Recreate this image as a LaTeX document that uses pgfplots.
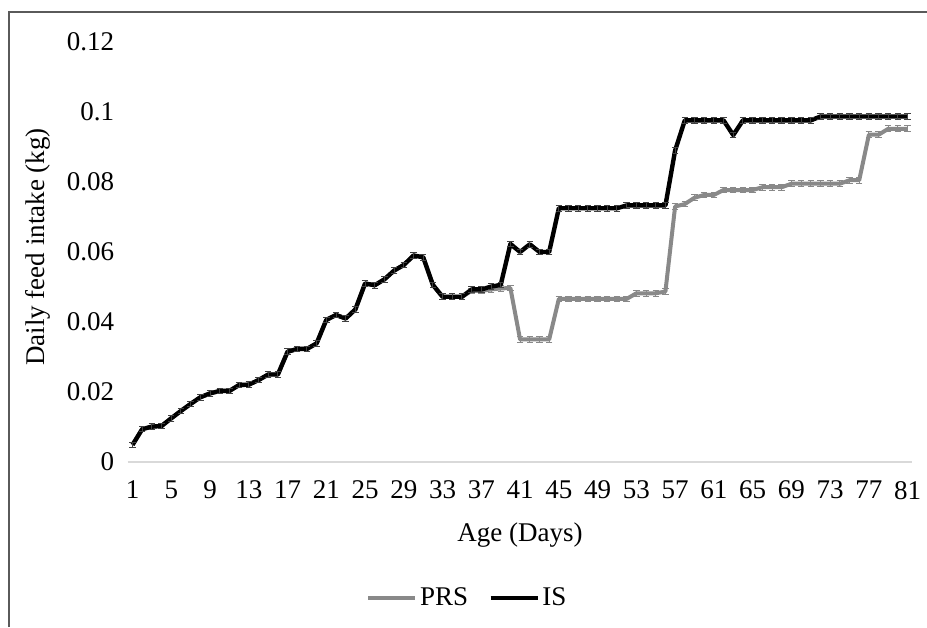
\documentclass[border=0pt]{standalone}
\usepackage{fontspec}
\setmainfont{Liberation Serif}
\usepackage{pgfplots}
\pgfplotsset{compat=1.18}
\usepackage{pgfplotstable}
\definecolor{prsgray}{RGB}{137,137,137}
\definecolor{axgray}{RGB}{217,217,217}
\definecolor{bordergray}{RGB}{90,90,90}
\pgfplotstableread{
day is prs
1 0.0049 0.0049
2 0.0094 0.0094
3 0.0101 0.0101
4 0.0103 0.0103
5 0.0125 0.0125
6 0.0146 0.0146
7 0.0166 0.0166
8 0.0185 0.0185
9 0.0196 0.0196
10 0.0203 0.0203
11 0.0203 0.0203
12 0.0220 0.0220
13 0.0221 0.0221
14 0.0234 0.0234
15 0.0250 0.0250
16 0.0250 0.0250
17 0.0315 0.0315
18 0.0323 0.0323
19 0.0323 0.0323
20 0.0339 0.0339
21 0.0406 0.0406
22 0.0420 0.0420
23 0.0410 0.0410
24 0.0436 0.0436
25 0.0510 0.0510
26 0.0505 0.0505
27 0.0522 0.0522
28 0.0547 0.0547
29 0.0563 0.0563
30 0.0590 0.0590
31 0.0585 0.0585
32 0.0506 0.0506
33 0.0472 0.0472
34 0.0472 0.0472
35 0.0472 0.0472
36 0.0493 0.0489
37 0.0493 0.0489
38 0.0501 0.0493
39 0.0506 0.0496
40 0.0623 0.0497
41 0.0600 0.0350
42 0.0622 0.0350
43 0.0600 0.0350
44 0.0600 0.0350
45 0.0725 0.0466
46 0.0725 0.0466
47 0.0725 0.0466
48 0.0725 0.0466
49 0.0725 0.0466
50 0.0725 0.0466
51 0.0725 0.0466
52 0.0733 0.0466
53 0.0733 0.0482
54 0.0733 0.0482
55 0.0733 0.0482
56 0.0733 0.0487
57 0.0890 0.0730
58 0.0976 0.0737
59 0.0976 0.0755
60 0.0976 0.0763
61 0.0976 0.0763
62 0.0976 0.0777
63 0.0934 0.0777
64 0.0976 0.0777
65 0.0976 0.0777
66 0.0976 0.0785
67 0.0976 0.0785
68 0.0976 0.0785
69 0.0976 0.0795
70 0.0976 0.0795
71 0.0976 0.0795
72 0.0987 0.0795
73 0.0987 0.0795
74 0.0987 0.0795
75 0.0987 0.0805
76 0.0987 0.0805
77 0.0987 0.0935
78 0.0987 0.0935
79 0.0987 0.0952
80 0.0987 0.0952
81 0.0987 0.0952
}\datatable
\begin{document}
\begin{tikzpicture}
\useasboundingbox (0pt,0pt) rectangle (463.5pt,313.5pt);
\draw[bordergray, line width=0.6pt] (4.5pt,0pt) -- (4.5pt,307.5pt) -- (463.5pt,307.5pt);
\begin{axis}[
  at={(63.85pt,82.5pt)}, anchor=south west,
  scale only axis, width=392.4pt, height=210pt,
  xmin=0.5, xmax=81.5, ymin=0, ymax=0.12,
  xtick={1,5,...,81},
  ytick={0,0.02,0.04,0.06,0.08,0.1,0.12},
  yticklabels={0,0.02,0.04,0.06,0.08,0.1,0.12},
  axis x line*=bottom, axis y line*=left,
  x axis line style={-, draw=axgray, line width=0.8pt},
  y axis line style={draw=none},
  tick style={draw=none}, major tick length=0pt,
  /pgf/number format/assume math mode=true,
  ticklabel style={font=\fontsize{13.5}{16}\selectfont},
  xticklabel style={yshift=-6pt},
  yticklabel style={xshift=-3.3pt},
  label style={font=\fontsize{13.5}{16}\selectfont},
  xlabel={Age (Days)},
  xlabel style={at={(axis description cs:0.5,-0.174)}, anchor=center},
  ylabel={Daily feed intake (kg)},
  ylabel style={at={(axis description cs:-0.1143,0.512)}, anchor=center, rotate=0},
  legend columns=2,
  legend style={at={(axis description cs:0.433,-0.324)}, anchor=center, draw=none,
    font=\fontsize{13.5}{16}\selectfont, nodes={inner sep=1.2pt},
    /tikz/every even column/.append style={column sep=9pt}},
  legend image code/.code={\draw[#1, line width=2.2pt] (0pt,0pt) -- (23.5pt,0pt);},
]
\addplot[prsgray, line width=2pt, line join=round, mark=none,
  error bars/.cd, y dir=both, y fixed=0.0008,
  error bar style={prsgray, line width=0.5pt},
  error mark options={rotate=90, prsgray, mark size=1.6pt, line width=0.5pt}]
  table[x=day, y=prs]{\datatable};
\addlegendentry{PRS}
\addplot[black, line width=2.2pt, line join=round, mark=none,
  error bars/.cd, y dir=both, y fixed=0.0008,
  error bar style={black!75, line width=0.5pt},
  error mark options={rotate=90, black!75, mark size=1.6pt, line width=0.5pt}]
  table[x=day, y=is]{\datatable};
\addlegendentry{IS}
\end{axis}
\end{tikzpicture}
\end{document}
